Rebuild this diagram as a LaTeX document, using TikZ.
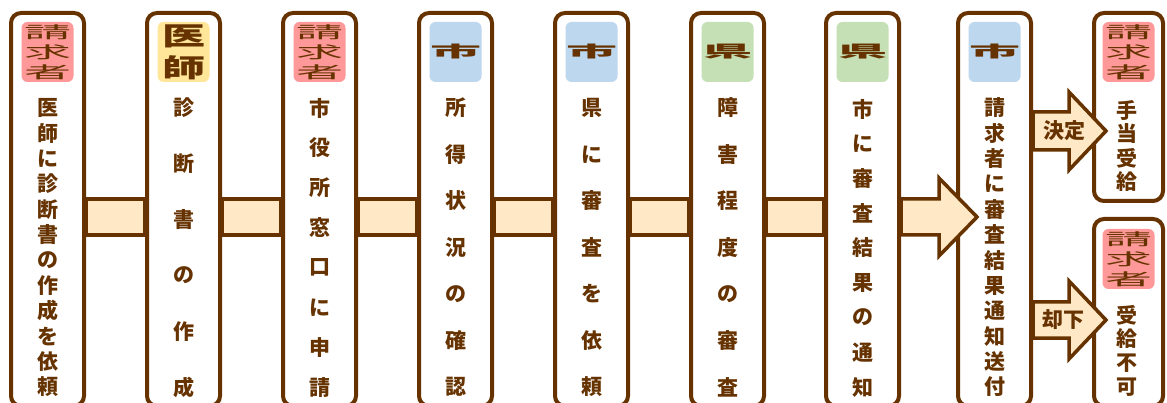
\documentclass[tikz,border=0pt]{standalone}
\usepackage{fontspec}
\usepackage{graphicx}
\newfontfamily\jpfont{Noto Sans CJK JP}

\definecolor{brn}{HTML}{663300}
\definecolor{barfill}{HTML}{FFE8C5}
\definecolor{pinkbg}{HTML}{FF9999}
\definecolor{yellowbg}{HTML}{FFE699}
\definecolor{bluebg}{HTML}{BDD7EE}
\definecolor{greenbg}{HTML}{C5E0B4}

\tikzset{
  stepbox/.style={draw=brn, line width=4pt, rounded corners=10pt, fill=white,
    minimum width=73pt, inner sep=0pt},
  badge/.style={rounded corners=6pt, minimum width=52pt, minimum height=60pt,
    inner sep=0pt, text=brn, font=\jpfont},
  vchar/.style={text=brn, inner sep=0pt,
    font=\jpfont\bfseries\fontsize{21}{21}\selectfont},
  bar/.style={draw=brn, line width=4pt, fill=barfill},
  flow/.style={draw=brn, line width=3.5pt, fill=barfill, line join=miter}
}

% badge texts, stretched to fill the badge
\newcommand\whoclaim{\resizebox*{47pt}{55pt}{\shortstack{請\\求\\者}}}
\newcommand\whodoc{\resizebox*{43pt}{55pt}{\shortstack{\bfseries 医\\\bfseries 師}}}
\newcommand\whocity{\resizebox*{51pt}{15pt}{\bfseries 市}}
\newcommand\whopref{\resizebox*{49pt}{15pt}{\bfseries 県}}

% name, x, first y, step, characters
\newcommand\vtext[5]{%
  \foreach \ch [count=\k] in {#5}
    \node[vchar] (#1-\k) at (#2,{#3+(\k-1)*#4}) {\ch};}

\begin{document}
\begin{tikzpicture}[x=1pt,y=-1pt]

        \useasboundingbox (0,0) rectangle (1167,403);
        \clip (0,0) rectangle (1167,403);

        % steps
        \node[stepbox, minimum height=393pt] (b1) at (47.5,209.5)  {};
        \node[stepbox, minimum height=393pt] (b2) at (183.5,209.5) {};
        \node[stepbox, minimum height=393pt] (b3) at (319.5,209.5) {};
        \node[stepbox, minimum height=393pt] (b4) at (455.5,209.5) {};
        \node[stepbox, minimum height=393pt] (b5) at (591.5,209.5) {};
        \node[stepbox, minimum height=393pt] (b6) at (727.5,209.5) {};
        \node[stepbox, minimum height=393pt] (b7) at (862.5,209.5) {};
        \node[stepbox, minimum height=393pt] (b8) at (994.5,209.5) {};
        \node[stepbox, minimum width=69pt, minimum height=188pt] (r1) at (1128.5,107) {};
        \node[stepbox, minimum width=69pt, minimum height=187pt] (r2) at (1128.5,312.5) {};

        % who does it
        \node[badge, fill=pinkbg]   (t1) at (b1.north |- 0,52) {\whoclaim};
        \node[badge, fill=yellowbg] (t2) at (b2.north |- 0,52) {\whodoc};
        \node[badge, fill=pinkbg]   (t3) at (b3.north |- 0,52) {\whoclaim};
        \node[badge, fill=bluebg]   (t4) at (b4.north |- 0,52) {\whocity};
        \node[badge, fill=bluebg]   (t5) at (b5.north |- 0,52) {\whocity};
        \node[badge, fill=greenbg]  (t6) at (b6.north |- 0,52) {\whopref};
        \node[badge, fill=greenbg]  (t7) at (b7.north |- 0,52) {\whopref};
        \node[badge, fill=bluebg]   (t8) at (b8.north |- 0,52) {\whocity};
        \node[badge, fill=pinkbg]   (s1) at (r1.north |- 0,52) {\whoclaim};
        \node[badge, fill=pinkbg]   (s2) at (r2.north |- 0,259) {\whoclaim};

        % what is done
        \vtext{c1}{47.5}{108}{25.36}{医,師,に,診,断,書,の,作,成,を,依,頼}
        \vtext{c2}{183.5}{108}{55.8}{診,断,書,の,作,成}
        \vtext{c3}{319.5}{108}{39.86}{市,役,所,窓,口,に,申,請}
        \vtext{c4}{455.5}{108}{46.5}{所,得,状,況,の,確,認}
        \vtext{c5}{591.5}{108}{46.5}{県,に,審,査,を,依,頼}
        \vtext{c6}{727.5}{108}{46.5}{障,害,程,度,の,審,査}
        \vtext{c7}{862.5}{109}{34.75}{市,に,審,査,結,果,の,通,知}
        \vtext{c8}{994.5}{108}{25.36}{請,求,者,に,審,査,結,果,通,知,送,付}
        \vtext{d1}{1127}{110}{24}{手,当,受,給}
        \vtext{d2}{1127}{315}{24}{受,給,不,可}

        % links
        \draw[bar] (b1.east |- 0,199) rectangle (b2.west |- 0,235);
        \draw[bar] (b2.east |- 0,199) rectangle (b3.west |- 0,235);
        \draw[bar] (b3.east |- 0,199) rectangle (b4.west |- 0,235);
        \draw[bar] (b4.east |- 0,199) rectangle (b5.west |- 0,235);
        \draw[bar] (b5.east |- 0,199) rectangle (b6.west |- 0,235);
        \draw[bar] (b6.east |- 0,199) rectangle (b7.west |- 0,235);

        \draw[flow] (b7.east |- 0,217) ++(0,-18) -- ++(38,0) -- ++(0,-21)
          -- ++(38,39) -- ++(-38,39) -- ++(0,-21) -- ++(-38,0) -- cycle;
        \draw[flow] (b8.east |- 0,131) ++(0,-19) -- ++(36,0) -- ++(0,-20)
          -- ++(37,39) -- ++(-37,39) -- ++(0,-20) -- ++(-36,0) -- cycle;
        \draw[flow] (b8.east |- 0,320) ++(0,-18) -- ++(36,0) -- ++(0,-21)
          -- ++(37,39) -- ++(-37,39) -- ++(0,-21) -- ++(-36,0) -- cycle;

        \node[vchar] (ok) at (1064,131) {決定};
        \node[vchar] (ng) at (1063,320) {却下};

\end{tikzpicture}
\end{document}
